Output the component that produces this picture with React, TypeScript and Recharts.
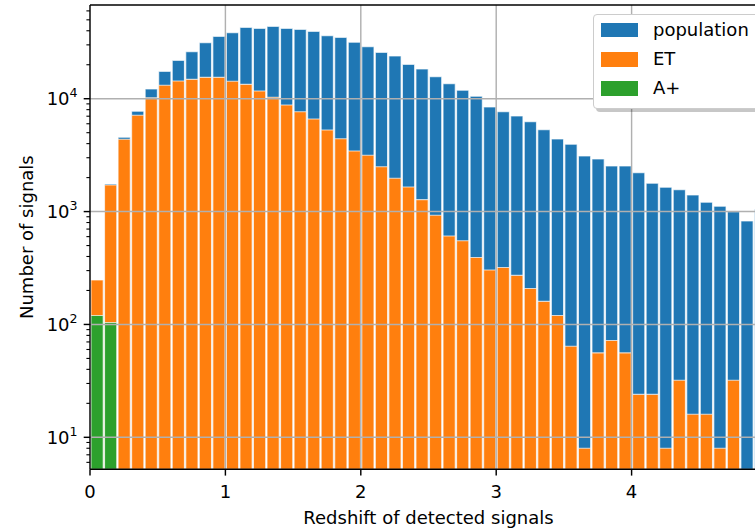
import React from 'react';
import { BarChart, Bar, XAxis, YAxis, ReferenceLine, Legend, Label } from 'recharts';

const FONT = '"DejaVu Sans", Verdana, sans-serif';

// Histogram bin centres (bin width 0.1)
const BIN_CENTERS = [
  0.05, 0.15, 0.25, 0.35, 0.45, 0.55, 0.65, 0.75, 0.85, 0.95,
  1.05, 1.15, 1.25, 1.35, 1.45, 1.55, 1.65, 1.75, 1.85, 1.95,
  2.05, 2.15, 2.25, 2.35, 2.45, 2.55, 2.65, 2.75, 2.85, 2.95,
  3.05, 3.15, 3.25, 3.35, 3.45, 3.55, 3.65, 3.75, 3.85, 3.95,
  4.05, 4.15, 4.25, 4.35, 4.45, 4.55, 4.65, 4.75, 4.85, 4.95,
];

const POPULATION = [
  248, 1756, 4550, 7733, 12190, 17480, 21880, 26080, 31330, 35700,
  38420, 42900, 42030, 43780, 42030, 41180, 39540, 36140, 34980, 31600,
  28880, 25760, 23890, 20170, 18330, 15660, 13580, 11870, 10500, 8445,
  7672, 7028, 6255, 5314, 4396, 3945, 3108, 2923, 2534, 2534,
  2211, 1781, 1641, 1563, 1403, 1209, 1114, 998, 825, 1048,
];

const ET = [
  248, 1720, 4369, 7129, 10200, 13150, 14350, 14850, 15470, 15470,
  14260, 13410, 11700, 10290, 8795, 7672, 6611, 5282, 4423, 3442,
  3153, 2499, 1972, 1652, 1275, 927, 608, 552, 392, 304,
  320, 272, 208, 160, 120, 64, 8, 56, 72, 56,
  24, 24, 8, 32, 16, 16, 8, 32, null, null,
];

const APLUS = [
  120, 104, null, null, null, null, null, null, null, null,
  null, null, null, null, null, null, null, null, null, null,
  null, null, null, null, null, null, null, null, null, null,
  null, null, null, null, null, null, null, null, null, null,
  null, null, null, null, null, null, null, null, null, null,
];

const SERIES_NAMES = ['population', 'ET', 'A+'];
const COLORS = ['#1f77b4', '#ff7f0e', '#2ca02c'];

const X_DOMAIN = [0, 5];
const X_TICKS = [0, 1, 2, 3, 4];
const X_GRID = [1, 2, 3, 4];
const Y_DOMAIN = [5.207, 67660];
const Y_GRID = [10, 100, 1000, 10000];
const Y_TICKS = [
  6, 7, 8, 9, 10, 20, 30, 40, 50, 60, 70, 80, 90,
  100, 200, 300, 400, 500, 600, 700, 800, 900,
  1000, 2000, 3000, 4000, 5000, 6000, 7000, 8000, 9000,
  10000, 20000, 30000, 40000, 50000, 60000,
];

const X_LABEL = 'Redshift of detected signals';
const Y_LABEL = 'Number of signals';

const DATA = BIN_CENTERS.map((z, i) => ({
  z,
  population: POPULATION[i],
  et: ET[i],
  aplus: APLUS[i],
}));

const XTick = (props: any) => {
  const { x, y, payload } = props;
  return (
    <g>
      <line x1={x} x2={x} y1={y} y2={y + 6.3} stroke="#000" strokeWidth={1.44} />
      <text x={x} y={y + 28.7} textAnchor="middle" fontSize={18} fontFamily={FONT} fill="#000">
        {payload.value}
      </text>
    </g>
  );
};

const YTick = (props: any) => {
  const { x, y, payload } = props;
  const v = payload.value;
  const lg = Math.log10(v);
  const exp = Math.round(lg);
  const major = Math.abs(lg - exp) < 1e-9;
  return (
    <g>
      <line x1={x - (major ? 6.3 : 3.6)} x2={x} y1={y} y2={y} stroke="#000" strokeWidth={major ? 1.44 : 1.1} />
      {major && (
        <text x={x - 12.4} y={y + 6.5} textAnchor="end" fontSize={18} fontFamily={FONT} fill="#000">
          10
          <tspan dy={-8} fontSize={12.6}>{exp}</tspan>
        </text>
      )}
    </g>
  );
};

const XLabel = (props: any) => {
  const vb = props.viewBox || {};
  return (
    <text x={vb.x + vb.width / 2} y={524} textAnchor="middle" fontSize={18} fontFamily={FONT} fill="#000">
      {X_LABEL}
    </text>
  );
};

const YLabel = (props: any) => {
  const vb = props.viewBox || {};
  const cy = vb.y + vb.height / 2;
  const cx = 33;
  return (
    <text
      x={cx}
      y={cy}
      textAnchor="middle"
      fontSize={18}
      fontFamily={FONT}
      fill="#000"
      transform={`rotate(-90 ${cx} ${cy})`}
    >
      {Y_LABEL}
    </text>
  );
};

const LegendBox = (props: any) => {
  const payload = [...(props.payload || [])].sort(
    (a: any, b: any) => SERIES_NAMES.indexOf(a.value) - SERIES_NAMES.indexOf(b.value)
  );
  return (
    <div style={{ position: 'relative', width: 166, height: 95, fontFamily: FONT }}>
      <div
        style={{
          position: 'absolute', left: 0, top: 0, width: 164, height: 93,
          background: '#fff', border: '1px solid #cccccc', borderRadius: 4,
          boxShadow: '3px 3px 0 rgba(0,0,0,0.22)',
        }}
      />
      {payload.map((p: any, i: number) => (
        <div key={i} style={{ position: 'absolute', left: 0, top: 9 + i * 29.2, height: 15, width: 166 }}>
          <div style={{ position: 'absolute', left: 8, top: 0, width: 37, height: 14.4, background: p.color }} />
          <div style={{ position: 'absolute', left: 60, top: -4, fontSize: 18, lineHeight: '22px', color: '#000', whiteSpace: 'nowrap' }}>
            {p.value}
          </div>
        </div>
      ))}
    </div>
  );
};

export default function App() {
  return (
    <div style={{ position: 'absolute', left: 0, top: 0, width: 755, height: 530, overflow: 'hidden', background: '#fff' }}>
      <BarChart width={767} height={530} data={DATA} margin={{ top: 5, right: 0, bottom: 0, left: 0 }}>
        <XAxis xAxisId="et" type="number" dataKey="z" domain={X_DOMAIN} allowDataOverflow hide height={0} />
        <XAxis xAxisId="ap" type="number" dataKey="z" domain={X_DOMAIN} allowDataOverflow hide height={0} />
        <XAxis
          xAxisId="main"
          type="number"
          dataKey="z"
          domain={X_DOMAIN}
          allowDataOverflow
          ticks={X_TICKS}
          interval={0}
          height={60.7}
          tickSize={0}
          tickMargin={0}
          tickLine={false}
          tick={<XTick />}
          axisLine={{ stroke: '#000', strokeWidth: 1.44 }}
        >
          <Label content={XLabel} />
        </XAxis>
        <YAxis
          type="number"
          scale="log"
          domain={Y_DOMAIN}
          allowDataOverflow
          ticks={Y_TICKS}
          interval={0}
          width={90}
          tickSize={0}
          tickMargin={0}
          tickLine={false}
          tick={<YTick />}
          axisLine={{ stroke: '#000', strokeWidth: 1.44 }}
        >
          <Label content={YLabel} />
        </YAxis>
        <Bar xAxisId="main" dataKey="population" name={SERIES_NAMES[0]} fill={COLORS[0]} barSize={13.54}
          stroke="#ffffff" strokeWidth={1.1} strokeOpacity={0.7} isAnimationActive={false} />
        <Bar xAxisId="et" dataKey="et" name={SERIES_NAMES[1]} fill={COLORS[1]} barSize={13.54}
          stroke="#ffffff" strokeWidth={1.1} strokeOpacity={0.7} isAnimationActive={false} />
        <Bar xAxisId="ap" dataKey="aplus" name={SERIES_NAMES[2]} fill={COLORS[2]} barSize={13.54}
          stroke="#ffffff" strokeWidth={1.1} strokeOpacity={0.7} isAnimationActive={false} />
        {X_GRID.map((v) => (
          <ReferenceLine key={`gx${v}`} xAxisId="main" x={v} stroke="#b0b0b0" strokeWidth={1.44} />
        ))}
        {Y_GRID.map((v) => (
          <ReferenceLine key={`gy${v}`} xAxisId="main" y={v} stroke="#b0b0b0" strokeWidth={1.44} />
        ))}
        <ReferenceLine xAxisId="main" y={Y_DOMAIN[1]} stroke="#000" strokeWidth={1.44} ifOverflow="visible" />
        <Legend
          layout="vertical"
          align="center"
          verticalAlign="middle"
          content={LegendBox}
          wrapperStyle={{ top: 14, left: 593, width: 170, height: 100 }}
        />
      </BarChart>
    </div>
  );
}
